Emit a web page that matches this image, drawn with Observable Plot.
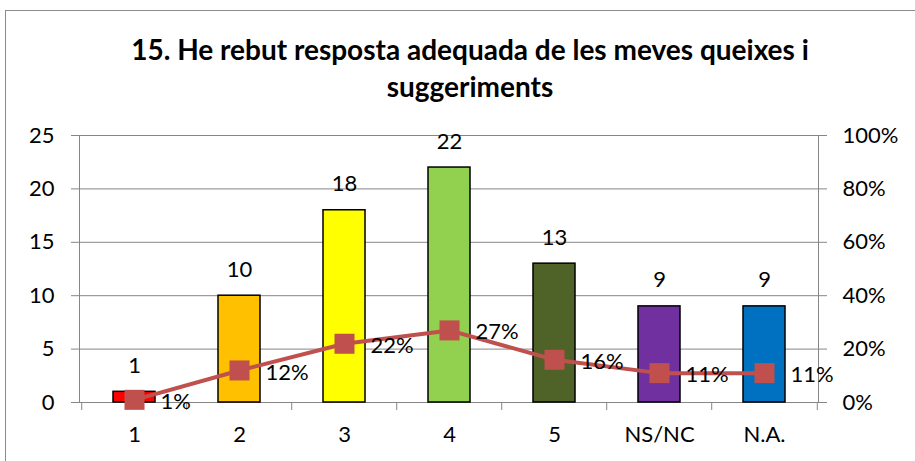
<!DOCTYPE html>
<html>
<head>
<meta charset="utf-8">
<script src="https://cdn.jsdelivr.net/npm/d3@7"></script>
<script src="https://cdn.jsdelivr.net/npm/@observablehq/plot@0.6"></script>
<style>
  html, body { margin: 0; padding: 0; background: #fff; }
  #wrap { position: relative; width: 915px; height: 461px; overflow: hidden; font-family: Lato, "Open Sans", sans-serif; }
  #border { position: absolute; left: 5px; top: 10px; width: 960px; height: 520px; border: 1px solid #8c8c8c; box-sizing: border-box; }
  #title { position: absolute; left: 0; top: 31px; width: 940px; text-align: center; font-weight: bold; font-size: 28px; line-height: 37px; color: #000; }
  #chart { position: absolute; left: 0; top: 0; }
</style>
</head>
<body>
<div id="wrap">
  <div id="border"></div>
  <div id="chart"></div>
  <div id="title">15. He rebut resposta adequada de les meves queixes i<br>suggeriments</div>
</div>
<script>
const categories = ["1", "2", "3", "4", "5", "NS/NC", "N.A."];
const counts = [1, 10, 18, 22, 13, 9, 9];
const percents = [1, 12, 22, 27, 16, 11, 11];
const colors = ["#FF0000", "#FFC000", "#FFFF00", "#92D050", "#4F6228", "#7030A0", "#0070C0"];
const leftTicks = [0, 5, 10, 15, 20, 25];
const rightMax = 100; // right axis 0%..100%
const leftMax = 25;

const data = categories.map((c, i) => ({
  cat: c,
  count: counts[i],
  pct: percents[i],
  pctY: percents[i] / rightMax * leftMax,
  color: colors[i]
}));

const W = 915, H = 461, ML = 79, MR = 97, MT = 135, MB = 59;
const step = (W - ML - MR) / categories.length;
const grey = "#868686";
const FS = 22;

const chart = Plot.plot({
  width: W, height: H,
  marginLeft: ML, marginRight: MR, marginTop: MT, marginBottom: MB,
  style: { fontFamily: "Lato, 'Open Sans', sans-serif", fontSize: FS + "px", color: "#000", background: "transparent", overflow: "visible" },
  x: { domain: categories, paddingInner: 0.6, paddingOuter: 0.3, axis: null, label: null },
  y: { domain: [0, leftMax], axis: null, label: null },
  color: { type: "identity" },
  marks: [
    Plot.gridY(leftTicks, { stroke: grey, strokeOpacity: 1, strokeWidth: 1 }),
    Plot.frame({ stroke: grey, strokeWidth: 1 }),
    Plot.axisY(leftTicks, { anchor: "left", tickSize: 8, tickPadding: 17, stroke: grey, fill: "#000", fontSize: FS, label: null }),
    Plot.axisY(leftTicks, { anchor: "right", tickSize: 8, tickPadding: 16, stroke: grey, fill: "#000", fontSize: FS, label: null, tickFormat: d => (d / leftMax * rightMax) + "%" }),
    Plot.ruleX(categories, { x: d => d, y1: 0, y2: -0.75, dx: -step / 2, stroke: grey, clip: false }),
    Plot.ruleX([categories[categories.length - 1]], { x: d => d, y1: 0, y2: -0.75, dx: step / 2, stroke: grey, clip: false }),
    Plot.axisX({ anchor: "bottom", tickSize: 0, tickPadding: 24, fill: "#000", fontSize: FS, label: null }),
    Plot.barY(data, { x: "cat", y: "count", fill: "color", stroke: "#000", strokeWidth: 1.5 }),
    Plot.text(data, { x: "cat", y: "count", text: d => String(d.count), dy: -26, fill: "#000", fontSize: FS }),
    Plot.line(data, { x: "cat", y: "pctY", stroke: "#C0504D", strokeWidth: 4 }),
    Plot.dot(data, { x: "cat", y: "pctY", symbol: "square", r: 11.3, fill: "#C0504D", stroke: "none" }),
    Plot.text(data, { x: "cat", y: "pctY", text: d => d.pct + "%", textAnchor: "start", dx: 26, dy: 2, fill: "#000", fontSize: FS })
  ]
});
document.getElementById("chart").appendChild(chart);
</script>
</body>
</html>
